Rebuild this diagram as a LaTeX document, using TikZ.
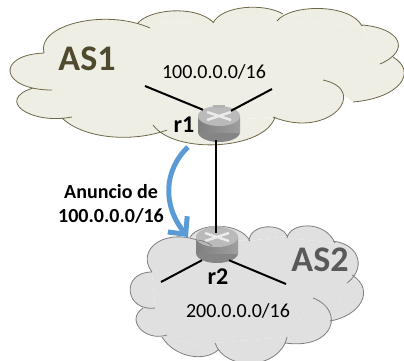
\documentclass[tikz,border=0pt]{standalone}
\usepackage{fontspec}
\setmainfont{Carlito}
\usetikzlibrary{arrows.meta}
\definecolor{asonefill}{HTML}{EEEEE4}
\definecolor{asoneline}{HTML}{6E6848}
\definecolor{asonetext}{HTML}{4F4A2E}
\definecolor{astwofill}{HTML}{E0E0E0}
\definecolor{astwoline}{HTML}{7F7F7F}
\definecolor{astwotext}{HTML}{595959}
\definecolor{annblue}{HTML}{5B9BD5}
\tikzset{
	routerbox/.style={inner sep=0pt,minimum width=42pt,minimum height=36pt},
	netlink/.style={line width=2pt,black},
	netlabel/.style={font=\fontsize{20}{24}\selectfont,inner sep=0pt},
	bigname/.style={font=\fontsize{36}{40}\selectfont\bfseries,inner sep=0pt},
	routername/.style={font=\fontsize{24}{28}\selectfont\bfseries,inner sep=0pt},
	router/.pic={
		\fill[black!48] (0,8) ellipse [x radius=21pt,y radius=10pt];
		\shade[left color=black!50,right color=black!38] (-21,-8) rectangle (21,8);
		\fill[black!27] (0,-8) ellipse [x radius=21pt,y radius=10pt];
		\fill[black!30] (-6,-19) rectangle (6,-16);
		\draw[white!92!black,line width=2.4pt] (-12,-4) -- (12,-12) (-12,-12) -- (12,-4);
	}
}
\begin{document}
\begin{tikzpicture}[x=1pt,y=-1pt]
	\useasboundingbox (0,0) rectangle (404,360);
	% AS2
	\fill[astwofill] (152,272) -- (205,243) -- (190,237) -- (250,241) -- (287,236) -- (287,238) -- (335,243) -- (333,241) -- (347,283) -- (352,275) -- (330,321) -- (313,298) -- (285,343) -- (287,337) -- (215,343) -- (218,350) -- (162,337) -- (167,335) -- (143,308) -- (155,308) -- cycle;
	\draw[astwoline,fill=astwofill,line width=.8pt]
		(152,272) .. controls (135,250) and (165,225) .. (205,243)
		(190,237) .. controls (200,222) and (240,222) .. (250,241)
		(249,241) .. controls (250,223) and (282,223) .. (287,236)
		(287,238) .. controls (290,222) and (325,220) .. (335,243)
		(333,241) .. controls (362,245) and (365,270) .. (347,283)
		(352,275) .. controls (376,290) and (360,316) .. (330,321)
		(313,298) .. controls (345,310) and (335,350) .. (285,343)
		(287,337) .. controls (280,370) and (225,372) .. (215,343)
		(218,350) .. controls (205,362) and (175,358) .. (162,337)
		(167,335) .. controls (145,342) and (125,320) .. (143,308)
		(155,308) .. controls (125,312) and (120,272) .. (152,272);
	% AS1
	\fill[asonefill] (44,53) -- (150,28) -- (138,23) -- (213,22) -- (283,14) -- (277,21) -- (362,26) -- (380,64) -- (393,57) -- (353,102) -- (323,80) -- (273,117) -- (153,125) -- (167,130) -- (62,118) -- (72,117) -- (33,88) -- (52,90) -- cycle;
	\draw[asoneline,fill=asonefill,line width=.8pt]
		(44,53) .. controls (36,25) and (105,8) .. (150,28)
		(138,23) .. controls (150,9) and (195,5) .. (213,22)
		(213,23) .. controls (222,5) and (265,3) .. (283,14)
		(277,21) .. controls (290,4) and (350,3) .. (362,26)
		(362,25) .. controls (400,28) and (412,50) .. (380,64)
		(393,57) .. controls (418,72) and (400,98) .. (353,102)
		(323,80) .. controls (370,90) and (330,140) .. (273,117)
		(275,117) .. controls (265,150) and (175,155) .. (153,125)
		(167,130) .. controls (135,142) and (85,140) .. (62,118)
		(72,117) .. controls (30,125) and (-5,100) .. (33,88)
		(52,90) .. controls (0,90) and (-5,55) .. (44,53);

	\node[routerbox] (r1) at (219,124) {};
	\node[routerbox] (r2) at (217,245) {};
	\pic at (r1) {router};
	\pic at (r2) {router};
	\draw[astwoline,line width=.8pt] (198,240) .. controls (204,241) and (209,243) .. (212,246);

	\coordinate (r1left) at (145,86);
	\coordinate (r1right) at (272,89);
	\coordinate (r2left) at (161,282);
	\coordinate (r2right) at (286,284);
	\draw[netlink] (r1left) -- ([xshift=-16pt,yshift=-4pt]r1.north);
	\draw[netlink] (r1right) -- ([xshift=12pt,yshift=-5pt]r1.north);
	\draw[netlink] ([xshift=-3pt,yshift=2pt]r1.south) -- ([xshift=-1pt,yshift=-6pt]r2.north);
	\draw[netlink] (r2left) -- ([xshift=-15pt,yshift=3pt]r2.south);
	\draw[netlink] (r2right) -- ([xshift=12pt,yshift=3pt]r2.south);

	\node[bigname,text=asonetext] (as1) at (87,59) {AS1};
	\node[bigname,text=astwotext] (as2) at (320,260) {AS2};
	\node[netlabel] (net1) at (214,72) {100.0.0.0/16};
	\node[netlabel] (net2) at (238,311) {200.0.0.0/16};
	\node[routername] (r1name) at (184,125) {r1};
	\node[routername] (r2name) at (218,277) {r2};
	\node[netlabel,font=\fontsize{20}{24}\selectfont\bfseries,align=center] (announce) at (111,204) {Anuncio de\\100.0.0.0/16};

	\coordinate (annstart) at (188,147);
	\coordinate (annend) at (188,237);
	\draw[annblue,line width=5pt,-{Straight Barb[length=13pt,width=25pt,line width=5pt]}] (annstart) .. controls (164,170) and (162,205) .. (annend);
\end{tikzpicture}
\end{document}
